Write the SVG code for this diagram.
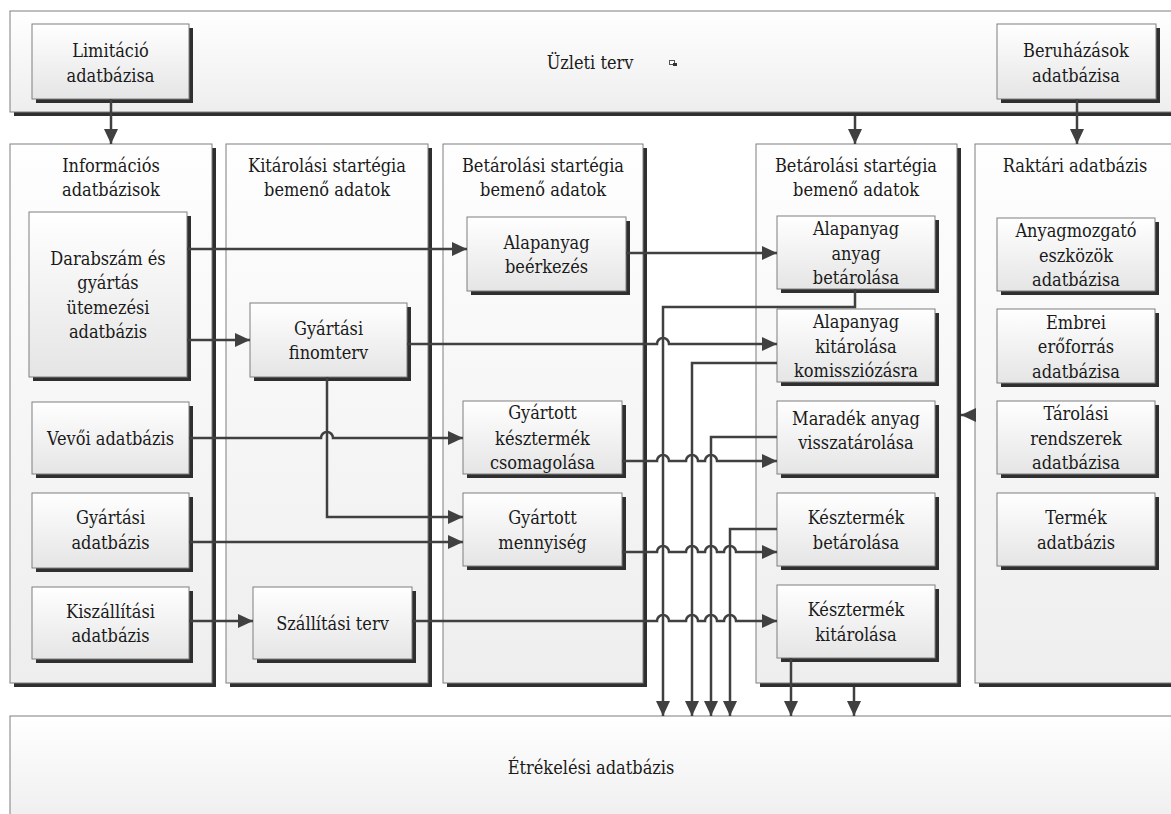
<svg xmlns="http://www.w3.org/2000/svg" width="1171" height="814" viewBox="0 0 1171 814">
  <defs>
    <linearGradient id="gBox" x1="0" y1="0" x2="0" y2="1">
      <stop offset="0" stop-color="#ffffff"/>
      <stop offset="1" stop-color="#e5e5e5"/>
    </linearGradient>
    <linearGradient id="gCol" x1="0" y1="0" x2="0" y2="1">
      <stop offset="0" stop-color="#fefefe"/>
      <stop offset="1" stop-color="#eeeeee"/>
    </linearGradient>
    <linearGradient id="gBand" x1="0" y1="0" x2="0" y2="1">
      <stop offset="0" stop-color="#ffffff"/>
      <stop offset="1" stop-color="#eeeeee"/>
    </linearGradient>
    <marker id="arr" markerUnits="userSpaceOnUse" markerWidth="16" markerHeight="15" refX="15" refY="7" orient="auto">
      <path d="M0,0 L15,7 L0,14 Z" fill="#404040"/>
    </marker>
    <style>
      .shadow { fill: #2f2f2f; }
      .box { fill: url(#gBox); stroke: #7f7f7f; stroke-width: 1; }
      .col { fill: url(#gCol); stroke: #7f7f7f; stroke-width: 1; }
      .band { fill: url(#gBand); stroke: #7f7f7f; stroke-width: 1; }
      .lbl { font-size: 18px; font-stretch: condensed; fill: #1a1a1a; text-anchor: middle; }
      .conn path { fill: none; stroke: #404040; stroke-width: 2.5; }
      .arrow { marker-end: url(#arr); }
    </style>
  </defs>

  <g class="lbl" font-family="DejaVu Serif Condensed, DejaVu Serif">
  <!-- business plan band -->
  <g id="uzleti-terv">
    <rect class="shadow" x="14" y="15" width="1170" height="101"/>
    <rect class="band" x="10" y="11" width="1170" height="101"/>
    <text x="590" y="69">Üzleti terv</text>
    <rect x="669.5" y="60.5" width="5" height="4" fill="#ffffff" stroke="#555" stroke-width="1"/>
    <rect x="673" y="63" width="4" height="3" fill="#333"/>
  </g>
  <g id="limitacio">
    <rect class="shadow" x="36" y="28" width="157" height="75"/>
    <rect class="box" x="32" y="24" width="157" height="75"/>
    <text x="110.5" y="57">Limitáció</text>
    <text x="110.5" y="82">adatbázisa</text>
  </g>
  <g id="beruhazasok">
    <rect class="shadow" x="1001" y="28" width="159" height="75"/>
    <rect class="box" x="997" y="24" width="159" height="75"/>
    <text x="1076" y="57">Beruházások</text>
    <text x="1076" y="82">adatbázisa</text>
  </g>

  <!-- columns -->
  <g id="informacios">
    <rect class="shadow" x="14" y="148" width="202" height="539"/>
    <rect class="col" x="10" y="144" width="202" height="539"/>
    <text x="111" y="172">Információs</text>
    <text x="111" y="196">adatbázisok</text>
  </g>
  <g id="kitarolasi">
    <rect class="shadow" x="230" y="148" width="202" height="539"/>
    <rect class="col" x="226" y="144" width="202" height="539"/>
    <text x="327" y="172">Kitárolási startégia</text>
    <text x="327" y="196">bemenő adatok</text>
  </g>
  <g id="betarolasi-1">
    <rect class="shadow" x="447" y="148" width="200" height="539"/>
    <rect class="col" x="443" y="144" width="200" height="539"/>
    <text x="543" y="172">Betárolási startégia</text>
    <text x="543" y="196">bemenő adatok</text>
  </g>
  <g id="betarolasi-2">
    <rect class="shadow" x="760" y="148" width="201" height="539"/>
    <rect class="col" x="756" y="144" width="201" height="539"/>
    <text x="856" y="172">Betárolási startégia</text>
    <text x="856" y="196">bemenő adatok</text>
  </g>
  <g id="raktari">
    <rect class="shadow" x="979" y="148" width="220" height="539"/>
    <rect class="col" x="975" y="144" width="220" height="539"/>
    <text x="1075" y="172">Raktári adatbázis</text>
  </g>

  <!-- information databases -->
  <g id="darabszam">
    <rect class="shadow" x="33" y="216" width="158" height="165"/>
    <rect class="box" x="29" y="212" width="158" height="165"/>
    <text x="108" y="265">Darabszám és</text>
    <text x="108" y="289">gyártás</text>
    <text x="108" y="314">ütemezési</text>
    <text x="108" y="338">adatbázis</text>
  </g>
  <g id="vevoi">
    <rect class="shadow" x="36" y="406" width="157" height="72"/>
    <rect class="box" x="32" y="402" width="157" height="72"/>
    <text x="110.5" y="445">Vevői adatbázis</text>
  </g>
  <g id="gyartasi-adatbazis">
    <rect class="shadow" x="36" y="497" width="157" height="75"/>
    <rect class="box" x="32" y="493" width="157" height="75"/>
    <text x="110.5" y="524">Gyártási</text>
    <text x="110.5" y="549">adatbázis</text>
  </g>
  <g id="kiszallitasi">
    <rect class="shadow" x="36" y="591" width="157" height="72"/>
    <rect class="box" x="32" y="587" width="157" height="72"/>
    <text x="110.5" y="618">Kiszállítási</text>
    <text x="110.5" y="642">adatbázis</text>
  </g>

  <!-- retrieval strategy -->
  <g id="finomterv">
    <rect class="shadow" x="254" y="307" width="157" height="74"/>
    <rect class="box" x="250" y="303" width="157" height="74"/>
    <text x="328.5" y="335">Gyártási</text>
    <text x="328.5" y="359">finomterv</text>
  </g>
  <g id="szallitasi-terv">
    <rect class="shadow" x="257" y="591" width="159" height="72"/>
    <rect class="box" x="253" y="587" width="159" height="72"/>
    <text x="332.5" y="630">Szállítási terv</text>
  </g>

  <!-- storage strategy, first column -->
  <g id="alapanyag-beerkezes">
    <rect class="shadow" x="471" y="221" width="159" height="74"/>
    <rect class="box" x="467" y="217" width="159" height="74"/>
    <text x="546.5" y="249">Alapanyag</text>
    <text x="546.5" y="273">beérkezés</text>
  </g>
  <g id="kesztermek-csomagolasa">
    <rect class="shadow" x="467" y="405" width="159" height="73"/>
    <rect class="box" x="463" y="401" width="159" height="73"/>
    <text x="542.5" y="419">Gyártott</text>
    <text x="542.5" y="444.5">késztermék</text>
    <text x="542.5" y="469">csomagolása</text>
  </g>
  <g id="gyartott-mennyiseg">
    <rect class="shadow" x="467" y="497" width="159" height="73"/>
    <rect class="box" x="463" y="493" width="159" height="73"/>
    <text x="542.5" y="524">Gyártott</text>
    <text x="542.5" y="549">mennyiség</text>
  </g>

  <!-- storage strategy, second column -->
  <g id="alapanyag-betarolasa">
    <rect class="shadow" x="781" y="220" width="158" height="73"/>
    <rect class="box" x="777" y="216" width="158" height="73"/>
    <text x="856" y="235">Alapanyag</text>
    <text x="856" y="259.5">anyag</text>
    <text x="856" y="284">betárolása</text>
  </g>
  <g id="alapanyag-kitarolasa">
    <rect class="shadow" x="781" y="313" width="158" height="73"/>
    <rect class="box" x="777" y="309" width="158" height="73"/>
    <text x="856" y="328">Alapanyag</text>
    <text x="856" y="352.5">kitárolása</text>
    <text x="856" y="377">komissziózásra</text>
  </g>
  <g id="maradek-anyag">
    <rect class="shadow" x="781" y="405" width="158" height="73"/>
    <rect class="box" x="777" y="401" width="158" height="73"/>
    <text x="856" y="425">Maradék anyag</text>
    <text x="856" y="449">visszatárolása</text>
  </g>
  <g id="kesztermek-betarolasa">
    <rect class="shadow" x="781" y="497" width="158" height="73"/>
    <rect class="box" x="777" y="493" width="158" height="73"/>
    <text x="856" y="524">Késztermék</text>
    <text x="856" y="549">betárolása</text>
  </g>
  <g id="kesztermek-kitarolasa">
    <rect class="shadow" x="781" y="589" width="158" height="73"/>
    <rect class="box" x="777" y="585" width="158" height="73"/>
    <text x="856" y="616">Késztermék</text>
    <text x="856" y="641">kitárolása</text>
  </g>

  <!-- warehouse database -->
  <g id="anyagmozgato">
    <rect class="shadow" x="1001" y="222" width="158" height="73"/>
    <rect class="box" x="997" y="218" width="158" height="73"/>
    <text x="1076" y="237">Anyagmozgató</text>
    <text x="1076" y="261.5">eszközök</text>
    <text x="1076" y="286">adatbázisa</text>
  </g>
  <g id="embrei">
    <rect class="shadow" x="1001" y="313" width="158" height="74"/>
    <rect class="box" x="997" y="309" width="158" height="74"/>
    <text x="1076" y="328.5">Embrei</text>
    <text x="1076" y="353">erőforrás</text>
    <text x="1076" y="377.5">adatbázisa</text>
  </g>
  <g id="tarolasi-rendszerek">
    <rect class="shadow" x="1001" y="405" width="158" height="73"/>
    <rect class="box" x="997" y="401" width="158" height="73"/>
    <text x="1076" y="420">Tárolási</text>
    <text x="1076" y="444.5">rendszerek</text>
    <text x="1076" y="469">adatbázisa</text>
  </g>
  <g id="termek">
    <rect class="shadow" x="1001" y="497" width="158" height="73"/>
    <rect class="box" x="997" y="493" width="158" height="73"/>
    <text x="1076" y="524">Termék</text>
    <text x="1076" y="549">adatbázis</text>
  </g>

  <!-- evaluation database -->
  <g id="ertekelesi">
    <rect class="band" x="10" y="716" width="1170" height="110"/>
    <text x="591" y="774">Étrékelési adatbázis</text>
  </g>
  </g>

  <!-- connectors -->
  <g class="conn">
    <!-- from the top band -->
    <path class="arrow" d="M111,99 V144"/>
    <path class="arrow" d="M855,116 V144"/>
    <path class="arrow" d="M1077,99 V144"/>
    <path class="arrow" d="M975,415 H961"/>

    <!-- information databases to strategies -->
    <path class="arrow" d="M187,249 H467"/>
    <path class="arrow" d="M187,340 H250"/>
    <path class="arrow" d="M189,438 H321 A6,6 0 0 1 333,438 H463"/>
    <path class="arrow" d="M327,377 V517 H463"/>
    <path class="arrow" d="M189,542 H463"/>
    <path class="arrow" d="M189,621 H253"/>

    <!-- into the storage column -->
    <path class="arrow" d="M626,253 H777"/>
    <path class="arrow" d="M407,344 H657 A6,6 0 0 1 669,344 H777"/>
    <path class="arrow" d="M622,461 H657 A6,6 0 0 1 669,461 H686 A6,6 0 0 1 698,461 H705 A6,6 0 0 1 717,461 H777"/>
    <path class="arrow" d="M622,552 H657 A6,6 0 0 1 669,552 H686 A6,6 0 0 1 698,552 H705 A6,6 0 0 1 717,552 H724 A6,6 0 0 1 736,552 H777"/>
    <path class="arrow" d="M412,621 H657 A6,6 0 0 1 669,621 H686 A6,6 0 0 1 698,621 H705 A6,6 0 0 1 717,621 H724 A6,6 0 0 1 736,621 H777"/>

    <!-- down to the evaluation database -->
    <path class="arrow" d="M855,289 V307 H663 V716"/>
    <path class="arrow" d="M777,363 H692 V716"/>
    <path class="arrow" d="M777,437 H711 V716"/>
    <path class="arrow" d="M777,529 H730 V716"/>
    <path class="arrow" d="M791,658 V716"/>
    <path class="arrow" d="M854,687 V716"/>
  </g>
</svg>
